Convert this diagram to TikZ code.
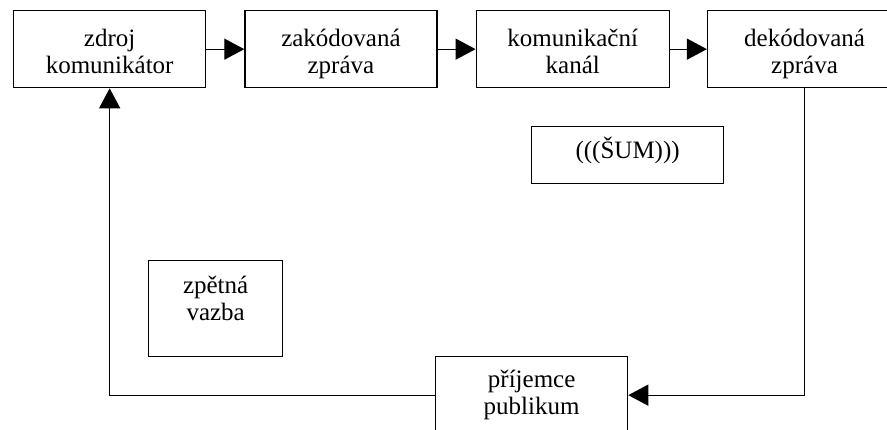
\documentclass[tikz,border=0pt]{standalone}
\usepackage{fontspec}
\setmainfont{Liberation Serif}
\usetikzlibrary{arrows.meta,positioning}
\newcommand{\topstrut}{\rule{0pt}{23pt}}
\tikzset{
  frame/.style={draw=black,line width=1.3pt,minimum width=192pt,minimum height=77pt,inner sep=0pt,anchor=north west},
  txt/.style={inner sep=0pt,anchor=north,align=center,font=\fontsize{25}{27.5}\selectfont},
  arr/.style={-{Triangle[length=20pt,width=21pt]},draw=black,line width=1.3pt}
}
\begin{document}
\begin{tikzpicture}[x=1pt,y=-1pt]
  \clip (0,0) rectangle (887,429);
  % top row
  \node[frame] (zdroj) at (13,10) {};
  \node[frame,right=38pt of zdroj] (zakod) {};
  \node[frame,right=38pt of zakod,minimum width=193pt] (kanal) {};
  \node[frame,right=37pt of kanal,minimum width=194pt] (dekod) {};
  \node[txt,below=13pt of zdroj.north] (zdroj-t) {\topstrut zdroj\\komunikátor};
  \node[txt,below=13pt of zakod.north] (zakod-t) {\topstrut zakódovaná\\zpráva};
  \node[txt,below=13pt of kanal.north] (kanal-t) {\topstrut komunikační\\kanál};
  \node[txt,below=13pt of dekod.north] (dekod-t) {\topstrut dekódovaná\\zpráva};
  % loose boxes
  \node[frame,minimum height=57pt] (sum) at (531,126) {};
  \node[txt,below=9pt of sum.north] (sum-t) {\topstrut(((ŠUM)))};
  \node[frame,minimum width=134pt,minimum height=96pt] (zpetna) at (148,260) {};
  \node[txt,below=10pt of zpetna.north] (zpetna-t) {\topstrut zpětná\\vazba};
  \node[frame] (prijemce) at (435,356) {};
  \node[txt,below=8pt of prijemce.north] (prijemce-t) {\topstrut příjemce\\publikum};
  % arrows
  \draw[arr] (zdroj) -- (zakod);
  \draw[arr] (zakod) -- (kanal);
  \draw[arr] (kanal) -- (dekod);
  \draw[arr] (dekod.south) |- (prijemce.east);
  \draw[arr] (prijemce.west) -| (zdroj.south);
\end{tikzpicture}
\end{document}
